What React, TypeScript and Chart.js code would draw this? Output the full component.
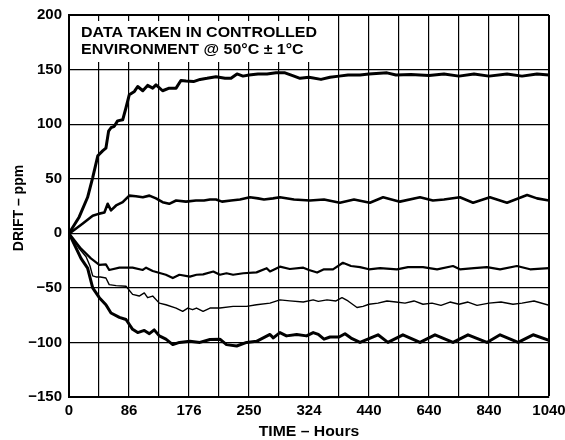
import React, { useEffect, useRef } from "react";
import { Chart, registerables } from "chart.js";

Chart.register(...registerables);

const xTickLabels = ["0", "86", "176", "250", "324", "440", "640", "840", "1040"];
const yTicks = [-150, -100, -50, 0, 50, 100, 150, 200];
const noteLines = ["DATA TAKEN IN CONTROLLED", "ENVIRONMENT @ 50°C ± 1°C"];
const xTitle = "TIME – Hours";
const yTitle = "DRIFT – ppm";

// x positions are in grid-division units (16 divisions, labelled every 2nd)
const s1X = [0, 0.07, 0.34, 0.62, 0.79, 0.96, 1.12, 1.23, 1.32, 1.4, 1.51, 1.62, 1.79, 1.9, 2.01, 2.18, 2.29, 2.46, 2.62, 2.79, 2.9, 3.12, 3.34, 3.57, 3.73, 3.9, 4.15, 4.37, 4.6, 4.9, 5.2, 5.4, 5.6, 5.8, 6.0, 6.3, 6.6, 6.9, 7.2, 7.5, 7.7, 8.0, 8.4, 8.7, 9.0, 9.3, 9.7, 10.0, 10.6, 10.9, 11.4, 12.0, 12.5, 13.0, 13.5, 14.0, 14.6, 15.1, 15.6, 16];
const s1Y = [0, 3, 15, 33, 51, 71, 75.5, 78, 93.6, 96.7, 98, 103, 104, 115, 127, 130, 134.5, 130.6, 135.5, 133, 136, 130.6, 133, 133, 140, 139.5, 139, 141, 142, 143.5, 142, 142, 146, 144, 145, 146, 146, 147, 147, 144, 142, 143, 141, 143, 144, 145, 145, 146, 147, 145, 145.5, 144.5, 146, 144, 146, 144, 146, 144, 146, 145];

const s2X = [0, 0.07, 0.46, 0.79, 1.01, 1.18, 1.29, 1.4, 1.57, 1.79, 2.01, 2.23, 2.46, 2.68, 2.9, 3.12, 3.34, 3.57, 3.9, 4.23, 4.5, 4.7, 4.9, 5.1, 5.4, 5.7, 6.03, 6.3, 6.5, 6.8, 7.03, 7.5, 8.03, 8.5, 9.03, 9.5, 10.03, 10.47, 11.03, 11.7, 12.13, 12.5, 13.03, 13.47, 14.03, 14.6, 15.27, 15.6, 16];
const s2Y = [0, 1, 9, 16, 18, 19, 27, 21, 25.5, 28.5, 34.5, 34, 33, 34.5, 32, 28.5, 27, 30, 29, 30, 30, 31, 31, 29, 30, 31, 33, 32, 31, 32, 33, 31, 30, 31, 28, 31, 28, 33, 29, 33, 30, 31, 33, 28, 33, 28, 35, 32, 30];

const s3X = [0, 0.4, 0.73, 1.01, 1.23, 1.34, 1.68, 2.12, 2.46, 2.57, 2.79, 3.23, 3.46, 3.68, 4.03, 4.25, 4.47, 4.81, 5.03, 5.25, 5.47, 5.81, 6.25, 6.59, 6.7, 7.03, 7.36, 7.81, 8.0, 8.27, 8.5, 8.8, 9.13, 9.4, 9.7, 10.0, 10.37, 10.93, 11.3, 11.8, 12.27, 12.8, 13.03, 13.5, 13.93, 14.37, 14.93, 15.37, 16];
const s3Y = [0, -14, -23, -29, -28.5, -33.6, -31.5, -31.5, -33.6, -31.5, -34.5, -38, -41, -38, -39.7, -38, -37.6, -35, -38, -36.6, -38, -36.6, -35.8, -32, -35, -30.6, -32.7, -31.5, -33.6, -36, -33, -33, -27, -30, -31, -33, -32, -33, -31, -31, -33, -30, -33, -32, -31, -33, -30, -33, -32];

const s4X = [0, 0.34, 0.57, 0.7, 0.79, 0.9, 1.05, 1.23, 1.34, 1.57, 1.9, 2.12, 2.34, 2.51, 2.62, 2.79, 3.01, 3.23, 3.57, 3.79, 3.96, 4.12, 4.25, 4.47, 4.7, 5.03, 5.47, 5.92, 6.25, 6.7, 7.03, 7.36, 7.81, 8.14, 8.31, 8.6, 8.9, 9.1, 9.3, 9.6, 9.8, 10.0, 10.3, 10.6, 10.9, 11.2, 11.5, 11.8, 12.1, 12.4, 12.7, 13.0, 13.3, 13.6, 14.0, 14.4, 14.8, 15.1, 15.5, 16];
const s4Y = [0, -14, -21.5, -30, -39, -40, -40, -41, -47, -48, -48.5, -56, -57.5, -54.6, -59, -57.5, -64, -65.5, -68.5, -71.5, -68.5, -70, -68.5, -71.5, -68.5, -68.5, -67, -67, -65.5, -64, -61, -61.9, -63, -61, -62.4, -61, -62, -59, -62, -68, -67, -65, -64, -62, -63, -64, -62, -65, -64, -66, -63, -65, -63, -66, -64, -63, -65, -64, -62, -66];

const s5X = [0, 0.4, 0.62, 0.79, 1.01, 1.23, 1.4, 1.68, 1.9, 2.12, 2.29, 2.51, 2.68, 2.84, 3.01, 3.23, 3.46, 3.68, 4.03, 4.36, 4.7, 5.03, 5.25, 5.59, 5.92, 6.25, 6.7, 6.81, 7.03, 7.25, 7.59, 7.92, 8.14, 8.31, 8.5, 8.7, 9.0, 9.2, 9.4, 9.7, 10.3, 10.63, 11.13, 11.7, 12.2, 12.8, 13.3, 13.93, 14.37, 14.97, 15.47, 16];
const s5Y = [0, -23, -32, -50, -59, -65.5, -73, -77, -79, -88, -91, -89, -92, -88.5, -94, -97, -102, -100, -99, -100, -97.3, -97, -102, -103.3, -100, -99, -92.7, -95.8, -91, -94, -92.7, -94, -91, -92.7, -97, -95, -95, -92, -96, -100, -93, -100, -93, -100, -93, -100, -93, -100, -93, -100, -93, -98];

const seriesX = [s1X, s2X, s3X, s4X, s5X];
const seriesY = [s1Y, s2Y, s3Y, s4Y, s5Y];
const seriesWidth = [3, 2.6, 2.2, 1.4, 3];

const FONT = "'Liberation Sans', Arial, Helvetica, sans-serif";

const overlayPlugin = {
  id: "overlay",
  beforeDatasetsDraw(chart: any) {
    const { ctx, chartArea } = chart;
    ctx.save();
    ctx.fillStyle = "#fff";
    ctx.fillRect(chartArea.left + 1, 21, 322 - chartArea.left, 41);
    ctx.fillStyle = "#000";
    ctx.font = `bold 15px ${FONT}`;
    ctx.textBaseline = "alphabetic";
    ctx.textAlign = "left";
    ctx.translate(81, 0);
    ctx.scale(1.065, 1);
    ctx.fillText(noteLines[0], 0, 37);
    ctx.fillText(noteLines[1], 0, 54);
    ctx.restore();
  },
  afterDraw(chart: any) {
    const { ctx, chartArea } = chart;
    ctx.save();
    ctx.fillStyle = "#000";
    ctx.font = `bold 15px ${FONT}`;
    ctx.textAlign = "center";
    ctx.textBaseline = "middle";
    ctx.save();
    ctx.translate((chartArea.left + chartArea.right) / 2, 432);
    ctx.scale(1.05, 1);
    ctx.fillText(xTitle, 0, 0);
    ctx.restore();
    ctx.translate(19, 208);
    ctx.rotate(-Math.PI / 2);
    ctx.font = `bold 14px ${FONT}`;
    ctx.fillText(yTitle, 0, 0);
    ctx.restore();
  },
};

export default function App() {
  const ref = useRef<HTMLCanvasElement | null>(null);
  useEffect(() => {
    document.body.style.margin = "0";
    const canvas = ref.current!;
    const datasets = seriesX.map((xs, i) => ({
      data: xs.map((x, j) => ({ x, y: seriesY[i][j] })),
      borderColor: "#000",
      borderWidth: seriesWidth[i],
      pointRadius: 0,
      tension: 0,
      fill: false,
      borderJoinStyle: "round" as const,
      borderCapStyle: "round" as const,
    }));
    const chart = new Chart(canvas, {
      type: "line",
      data: { datasets },
      plugins: [overlayPlugin],
      options: {
        animation: false,
        responsive: false,
        devicePixelRatio: 1,
        layout: { padding: { left: 0, right: 16, top: 15, bottom: 0 } },
        plugins: { legend: { display: false }, tooltip: { enabled: false } },
        scales: {
          x: {
            type: "linear",
            min: 0,
            max: 16,
            afterFit(scale: any) {
              scale.height = 43;
              scale.paddingLeft = 0;
              scale.paddingRight = 0;
            },
            afterBuildTicks(scale: any) {
              scale.ticks = Array.from({ length: 17 }, (_, i) => ({ value: i }));
            },
            ticks: {
              autoSkip: false,
              maxRotation: 0,
              padding: 5,
              color: "#000",
              font: { family: FONT, size: 15, weight: "bold" },
              callback: (v: any) => (Number(v) % 2 === 0 ? xTickLabels[Number(v) / 2] : ""),
            },
            grid: {
              color: "#000",
              lineWidth: (c: any) => (c.tick && c.tick.value === 16 ? 2 : 1.2),
              drawTicks: false,
            },
            border: { color: "#000", width: 2 },
          },
          y: {
            min: -150,
            max: 200,
            afterFit(scale: any) {
              scale.width = 69;
              scale.paddingTop = 0;
              scale.paddingBottom = 0;
            },
            afterBuildTicks(scale: any) {
              scale.ticks = yTicks.map((v) => ({ value: v }));
            },
            ticks: {
              padding: 7,
              color: "#000",
              font: { family: FONT, size: 15, weight: "bold" },
              callback: (v: any) => (Number(v) < 0 ? "−" + Math.abs(Number(v)) : String(v)),
            },
            grid: {
              color: "#000",
              lineWidth: (c: any) => (c.tick && c.tick.value === 200 ? 2 : 1.2),
              drawTicks: false,
            },
            border: { color: "#000", width: 2 },
          },
        },
      },
    });
    return () => chart.destroy();
  }, []);
  return (
    <div style={{ width: 565, height: 440 }}>
      <canvas ref={ref} width={565} height={440} style={{ display: "block" }} />
    </div>
  );
}
